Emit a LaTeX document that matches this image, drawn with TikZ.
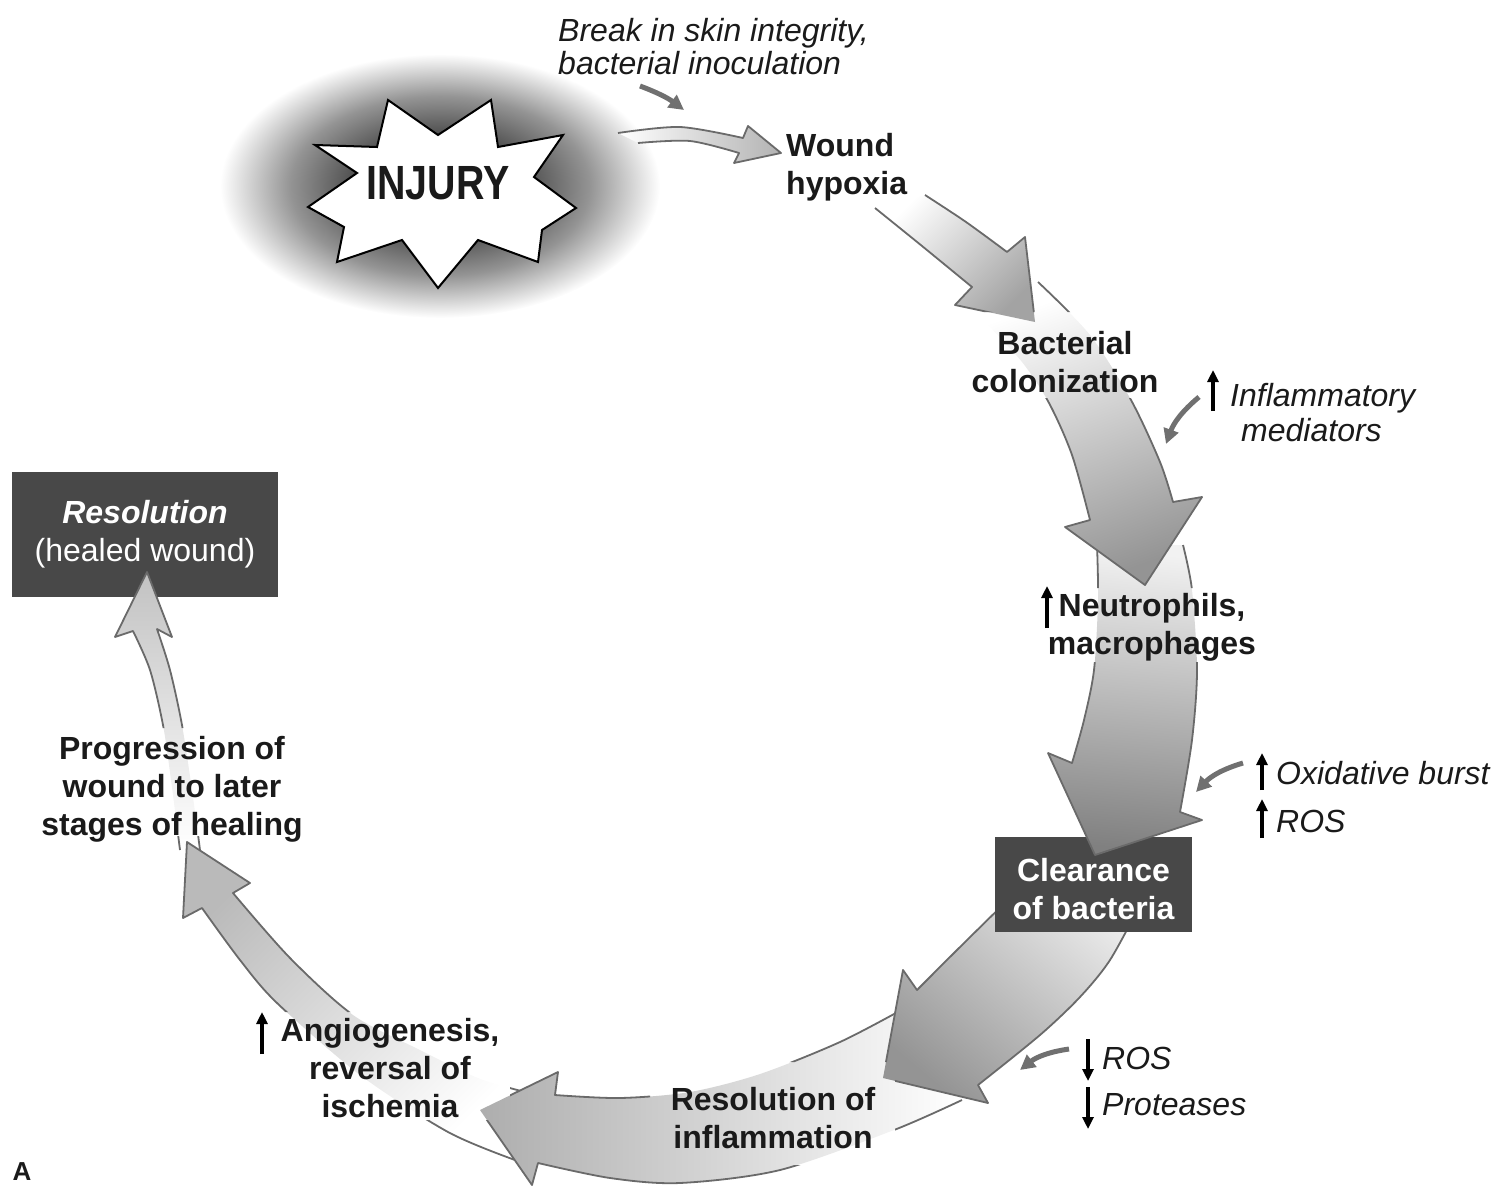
\documentclass[tikz,border=0pt]{standalone}
\usepackage{fontspec}
\setmainfont{Liberation Sans}
\newfontfamily\condfont[FakeStretch=0.82]{Liberation Sans}
\usetikzlibrary{arrows.meta,shadings}
\definecolor{boxgray}{HTML}{484848}
\definecolor{edgegray}{HTML}{6A6A6A}
\definecolor{inkgray}{HTML}{707070}
\definecolor{txt}{HTML}{1A1A1A}
\pgfdeclareradialshading{injuryglow}{\pgfpoint{0bp}{0bp}}{color(0bp)=(black!75); color(9bp)=(black!72); color(17bp)=(black!42); color(25bp)=(white); color(50bp)=(white)}
% clip region: whole picture minus the label areas (holes drawn in reverse orientation)
\newcommand{\holeclip}{\clip (0,0) -- (1511,0) -- (1511,1188) -- (0,1188) -- cycle
  (960,312) -- (960,398) -- (1165,398) -- (1165,312) -- cycle
  (1040,588) -- (1040,662) -- (1262,662) -- (1262,588) -- cycle
  (650,1062) -- (650,1165) -- (895,1165) -- (895,1062) -- cycle
  (275,1012) -- (275,1120) -- (510,1120) -- (510,1012) -- cycle
  (40,728) -- (40,836) -- (305,836) -- (305,728) -- cycle;}
\newcommand{\blockarrow}[2]{\shade[#1] #2 -- cycle; \begin{scope}\holeclip\draw[arrowedge] #2;\end{scope}}
\begin{document}
\begin{tikzpicture}[x=1pt,y=-1pt,
  lbl/.style={text=txt, align=center, inner sep=0pt, font=\bfseries\fontsize{32}{38}\selectfont},
  itl/.style={text=txt, align=left, inner sep=0pt, font=\itshape\fontsize{32}{35}\selectfont},
  darkbox/.style={fill=boxgray, text=white, inner sep=0pt, align=center, font=\fontsize{32}{38}\selectfont},
  arrowedge/.style={draw=edgegray, line width=1.8pt, line join=round},
  inflow/.style={draw=inkgray, line width=5pt, -{Triangle[length=15pt,width=15pt]}},
  updown/.style={draw=black, line width=3.5pt, -{Triangle[length=12pt,width=11pt]}}
]
\useasboundingbox (0,0) rectangle (1511,1188);

% glow and star
\shade[shading=injuryglow] (440,186) ellipse [x radius=220, y radius=132];
\draw[line width=2pt, fill=white, line join=miter]
  (388,100) -- (438,135) -- (491,100) -- (498,147) -- (563,135) -- (534,177)
  -- (576,208) -- (542,230) -- (538,262) -- (478,240) -- (438,288) -- (402,240)
  -- (337,262) -- (344,227) -- (308,207) -- (357,173) -- (315,145) -- (377,147) -- cycle;
\node[font=\condfont\bfseries\fontsize{48}{48}\selectfont, text=txt, inner sep=0pt] (injury) at (438,183) {INJURY};

% Resolution box
\node[darkbox, minimum width=266pt, minimum height=125pt] (resbox) at (145,534.5)
  {\textbf{\textit{Resolution}}\\(healed wound)};

% arrow 8: progression -> resolution
\blockarrow{top color=white, bottom color=black!24, shading angle=180}
 {plot[smooth] coordinates {(180,850) (171,780) (163,725) (150,670) (133,631)} -- (115,637) -- (147,572) -- (172,637) -- plot[smooth] coordinates {(157,629) (170,670) (182,725) (192,790) (200,850)}}

% arrow 7: angiogenesis -> progression
\blockarrow{top color=white, bottom color=black!27, shading angle=-135}
 {plot[smooth] coordinates {(525,1092) (478,1078) (420,1050) (353,1015) (290,958) (233,893)} -- (250,883) -- (187,842) -- (183,918) -- plot[smooth] coordinates {(202,908) (240,960) (277,1003) (360,1075) (448,1132) (515,1160)}}

% arrow 6: resolution of inflammation -> angiogenesis
\blockarrow{left color=black!32, right color=white}
 {plot[smooth] coordinates {(905,1008) (840,1042) (760,1074) (690,1092) (620,1098) (555,1095)} -- (558,1072) -- (480,1110) -- (532,1185) -- plot[smooth] coordinates {(538,1163) (610,1178) (680,1183) (780,1170) (894,1130) (962,1100)}}

% arrow 5: clearance -> resolution of inflammation
\blockarrow{top color=black!8, bottom color=black!42, shading angle=-40}
 {plot[smooth] coordinates {(1022,886) (960,947) (917,990)} -- (903,970) -- (883,1078) -- (988,1103) -- plot[smooth] coordinates {(978,1085) (1040,1035) (1080,997) (1110,960) (1140,905)}}

% Clearance box
\node[fill=boxgray, inner sep=0pt, minimum width=197pt, minimum height=95pt] (clearbox) at (1093.5,884.5) {};
\node[text=white, inner sep=0pt, align=center, font=\bfseries\fontsize{32}{38}\selectfont] (cleartxt) at (1093.5,889) {Clearance\\of bacteria};

% arrow 4: neutrophils -> clearance
\blockarrow{top color=black!5, bottom color=black!50, shading angle=-5}
 {plot[smooth] coordinates {(1097,545) (1098,600) (1094,670) (1084,720) (1072,763)} -- (1048,753) -- (1095,855) -- (1202,820) -- plot[smooth] coordinates {(1180,812) (1192,740) (1197,670) (1192,590) (1183,545)}}

% arrow 3: bacterial colonization -> neutrophils
\blockarrow{top color=white, bottom color=black!42, shading angle=20}
 {plot[smooth] coordinates {(985,322) (1022,362) (1049,403) (1072,455) (1090,520)} -- (1065,527) -- (1145,585) -- (1202,497) -- plot[smooth] coordinates {(1173,502) (1160,462) (1131,400) (1090,335) (1038,282)}}

% arrow 2: wound hypoxia -> bacterial colonization
\blockarrow{top color=white, bottom color=black!36, shading angle=45}
 {plot[smooth] coordinates {(925,195) (966,222) (1007,252)} -- (1025,237) -- (1035,322) -- (955,305) -- plot[smooth] coordinates {(972,287) (922,246) (875,208)}}

% arrow 1: injury -> wound hypoxia
\blockarrow{left color=white, right color=black!30}
 {plot[smooth] coordinates {(618,133) (680,127) (743,138)} -- (748,126) -- (781,153) -- (734,163) -- plot[smooth] coordinates {(739,153) (690,141) (638,143)}}

% labels
\node[itl, anchor=west, font=\itshape\fontsize{32}{33}\selectfont] (breaktxt) at (558,47) {Break in skin integrity,\\bacterial inoculation};
\node[lbl, anchor=west, align=left] (wound) at (786,167) {Wound\\hypoxia};
\node[lbl] (bact) at (1065,362) {Bacterial\\colonization};
\node[itl, anchor=west] (inflam) at (1230,412.5) {Inflammatory\\\hspace*{11pt}mediators};
\node[lbl] (neutro) at (1152,627) {Neutrophils,\\macrophages};
\node[itl, anchor=base west] (oxid) at (1276,784) {Oxidative burst};
\node[itl, anchor=base west] (rosup) at (1276,832) {ROS};
\node[itl, anchor=base west] (rosdown) at (1102,1069) {ROS};
\node[itl, anchor=base west] (proteases) at (1102,1115) {Proteases};
\node[lbl] (resinfl) at (773,1118.5) {Resolution of\\inflammation};
\node[lbl] (angio) at (390,1068) {Angiogenesis,\\reversal of\\ischemia};
\node[lbl] (progr) at (172,789) {Progression of\\wound to later\\stages of healing};
\node[text=txt, inner sep=0pt, anchor=base, font=\bfseries\fontsize{26}{26}\selectfont] (panelA) at (22,1180) {A};

% small inflow arrows
\coordinate (i1s) at (640,86);   \coordinate (i1e) at (684,110);
\coordinate (i2s) at (1199,397); \coordinate (i2e) at (1166,444);
\coordinate (i3s) at (1243,763); \coordinate (i3e) at (1196,792);
\coordinate (i4s) at (1069,1049); \coordinate (i4e) at (1020,1070);
\draw[inflow] (i1s) to[bend left=8] (i1e);
\draw[inflow] (i2s) to[bend right=15] (i2e);
\draw[inflow] (i3s) to[bend right=15] (i3e);
\draw[inflow] (i4s) to[bend right=15] (i4e);

% up/down arrows
\coordinate (u1s) at (1213,411); \coordinate (u1e) at (1213,370);
\coordinate (u2s) at (1047,628); \coordinate (u2e) at (1047,586);
\coordinate (u3s) at (1262,790); \coordinate (u3e) at (1262,753);
\coordinate (u4s) at (1262,838); \coordinate (u4e) at (1262,799);
\coordinate (u5s) at (262,1054); \coordinate (u5e) at (262,1012);
\coordinate (d1s) at (1088,1039); \coordinate (d1e) at (1088,1081);
\coordinate (d2s) at (1088,1087); \coordinate (d2e) at (1088,1129);
\draw[updown] (u1s) -- (u1e);
\draw[updown] (u2s) -- (u2e);
\draw[updown] (u3s) -- (u3e);
\draw[updown] (u4s) -- (u4e);
\draw[updown] (u5s) -- (u5e);
\draw[updown] (d1s) -- (d1e);
\draw[updown] (d2s) -- (d2e);
\end{tikzpicture}
\end{document}
